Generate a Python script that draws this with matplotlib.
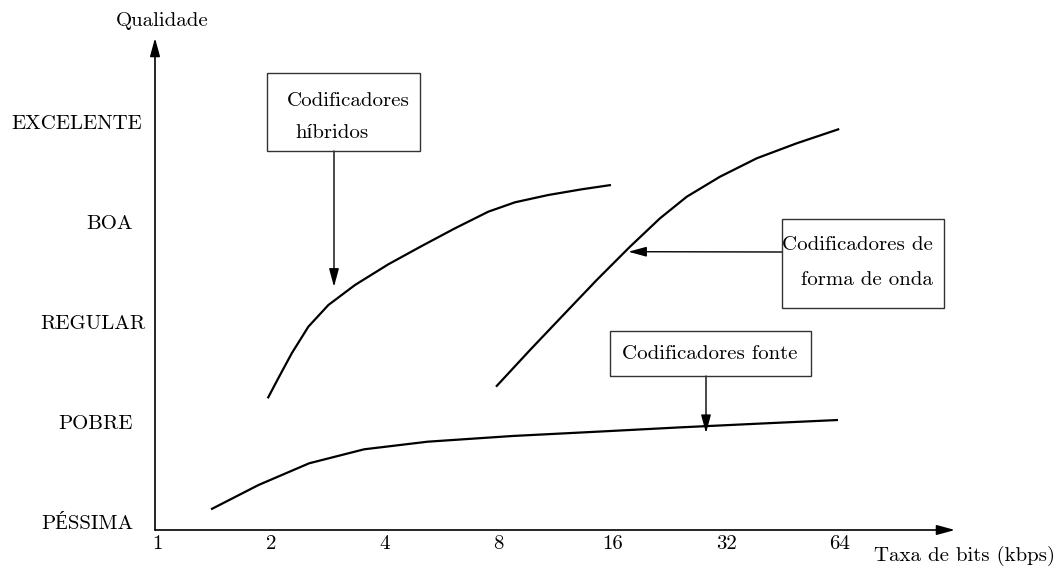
import matplotlib
matplotlib.use("Agg")
import matplotlib.pyplot as plt
import matplotlib.transforms as mtransforms
from matplotlib.patches import Rectangle

plt.rcParams['font.family'] = ['cmr10', 'Liberation Serif']
plt.rcParams['mathtext.fontset'] = 'cm'

# rates (kbps) on the x axis, quality levels on the y axis
rates = [1, 2, 4, 8, 16, 32, 64]
levels = ["PÉSSIMA", "POBRE", "REGULAR", "BOA", "EXCELENTE"]

# hybrid coders
hib_x = [1.963, 2.093, 2.272, 2.514, 2.840, 3.340, 4.092, 5.015, 6.142,
         7.521, 8.851, 10.84, 13.29, 15.88]
hib_y = [1.237, 1.437, 1.687, 1.953, 2.17, 2.37, 2.577, 2.76, 2.937,
         3.103, 3.197, 3.27, 3.327, 3.37]
# waveform coders
onda_x = [7.885, 9.70, 11.88, 14.56, 17.83, 21.41, 25.20, 30.85, 38.59, 49.22, 63.78]
onda_y = [1.353, 1.72, 2.07, 2.42, 2.753, 3.037, 3.253, 3.453, 3.637, 3.787, 3.93]
# source coders
fonte_x = [1.390, 1.856, 2.526, 3.531, 5.198, 8.706, 14.58, 24.40, 40.85, 63.3]
fonte_y = [0.127, 0.37, 0.587, 0.727, 0.803, 0.86, 0.903, 0.947, 0.987, 1.02]

W, H = 1060, 574


def fp(x, y):
    # pixel position -> figure fraction
    return (x / W, 1 - y / H)


fig = plt.figure(figsize=(10.6, 5.74), dpi=100)
ax = fig.add_axes([155 / W, 44 / H, 800 / W, 492 / H])
ax.set_xscale('log', base=2)
ax.set_xlim(2 ** -0.0176, 2 ** 7.0123)
ax.set_ylim(-0.08, 4.84)
for s in ax.spines.values():
    s.set_visible(False)

ax.set_xticks(rates)
ax.set_xticklabels([str(r) for r in rates], fontsize=15)
ax.xaxis.set_minor_locator(plt.NullLocator())
ax.set_yticks(range(len(levels)))
ax.set_yticklabels(levels, fontsize=15)
ax.tick_params(length=0)
ax.tick_params(axis='x', pad=4)
ax.tick_params(axis='y', pad=15.8)
# small per-label shifts (pixels) as in the original drawing
shifts = [0, 0, 12, 0, 9]
for lab, dx in zip(ax.get_yticklabels(), shifts):
    lab.set_transform(lab.get_transform() +
                      mtransforms.ScaledTranslation(dx / 100, 0, fig.dpi_scale_trans))

arr = dict(arrowstyle='-|>,head_length=1.1,head_width=0.3', color='black',
           lw=1.2, shrinkA=0, shrinkB=0)
ax.annotate('', xy=(1, 0), xytext=(0, 0), xycoords='axes fraction',
            arrowprops=arr, annotation_clip=False)
ax.annotate('', xy=(0, 1), xytext=(0, 0), xycoords='axes fraction',
            arrowprops=arr, annotation_clip=False)

ax.plot(hib_x, hib_y, color='black', lw=1.6, clip_on=False, solid_capstyle='butt')
ax.plot(onda_x, onda_y, color='black', lw=1.6, clip_on=False, solid_capstyle='butt')
ax.plot(fonte_x, fonte_y, color='black', lw=1.6, clip_on=False, solid_capstyle='butt')

fig.text(*fp(162, 21), "Qualidade", fontsize=15, ha='center', va='center')
fig.text(*fp(1055, 556), "Taxa de bits (kbps)", fontsize=15, ha='right', va='center')

boxes = [(267, 73, 420, 151), (782, 219, 944, 308), (610, 331, 811, 376)]
for x0, y0, x1, y1 in boxes:
    fig.patches.append(Rectangle(fp(x0, y1), (x1 - x0) / W, (y1 - y0) / H,
                                 transform=fig.transFigure, fill=False,
                                 edgecolor='#333333', lw=1.0))

fig.text(*fp(287, 101), "Codificadores", fontsize=15, ha='left', va='center')
fig.text(*fp(295, 133), "híbridos", fontsize=15, ha='left', va='center')
fig.text(*fp(933, 245), "Codificadores de", fontsize=15, ha='right', va='center')
fig.text(*fp(933, 280), "forma de onda", fontsize=15, ha='right', va='center')
fig.text(*fp(710, 354), "Codificadores fonte", fontsize=15, ha='center', va='center')

parr = dict(arrowstyle='-|>,head_length=1.1,head_width=0.3', color='black',
            lw=1.0, shrinkA=0, shrinkB=0)
ax.annotate('', xy=(2.939, 2.353), xytext=fp(334, 151), textcoords='figure fraction',
            arrowprops=parr)
ax.annotate('', xy=(17.65, 2.703), xytext=fp(782, 252), textcoords='figure fraction',
            arrowprops=parr)
ax.annotate('', xy=(28.33, 0.89), xytext=fp(706, 376), textcoords='figure fraction',
            arrowprops=parr)

fig.savefig("out.png", dpi=100)
